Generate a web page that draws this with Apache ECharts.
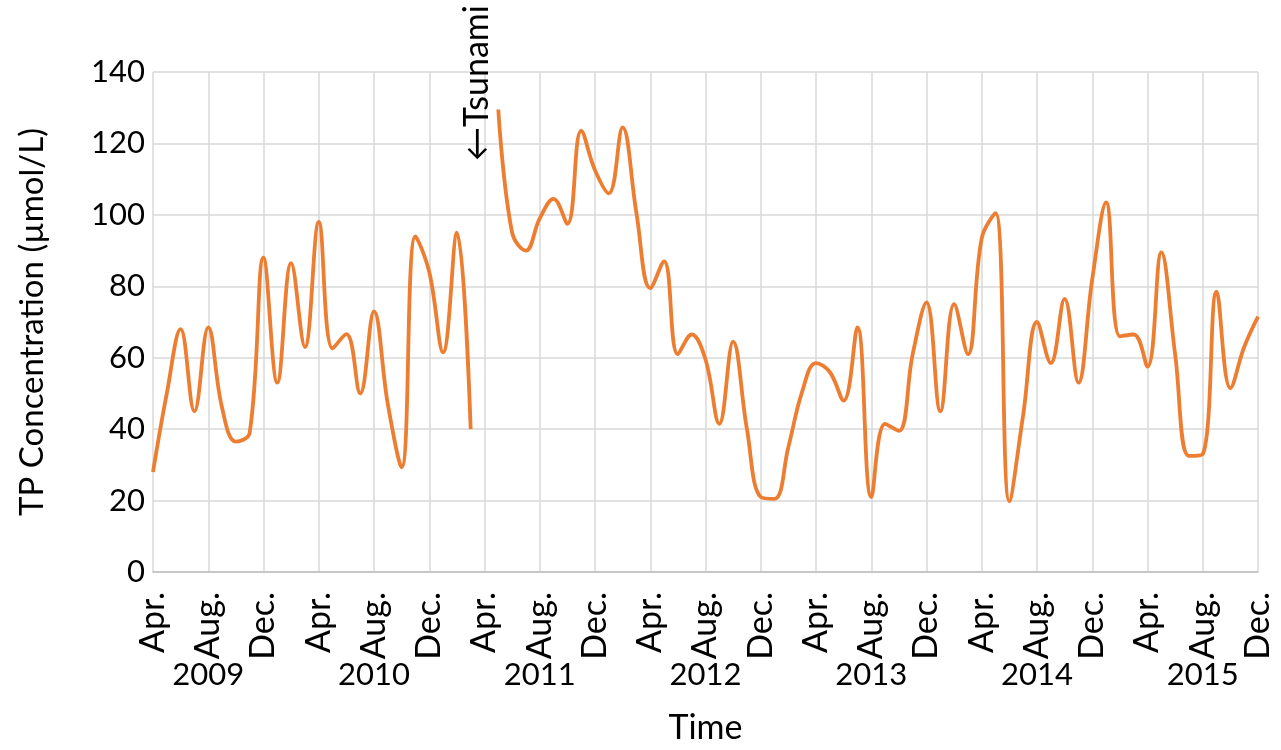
<!DOCTYPE html>
<html lang="en">
<head>
    <meta charset="UTF-8">
    <title>TP Concentration</title>
    <script type="text/javascript" src="https://cdn.jsdelivr.net/npm/echarts@6/dist/echarts.min.js"></script>
    <style>
        html, body {margin: 0; padding: 0; background: #fff;}
    </style>
</head>
<body>
    <div id="div_echarts" style="width: 1281px;height:750px;"></div>
    <script type="text/javascript">
        // 月份/年份（横轴）
        const years = [2009, 2010, 2011, 2012, 2013, 2014, 2015];
        const monthNames = ['Jan.', 'Feb.', 'Mar.', 'Apr.', 'May', 'Jun.', 'Jul.', 'Aug.', 'Sep.', 'Oct.', 'Nov.', 'Dec.'];
        const firstMonth = 4;   // Apr. 2009
        const lastMonth = 12;   // Dec. 2015
        const yearLabelMonth = 'Aug.';
        const tsunamiMonth = '2011-04';

        // 纵轴刻度
        const yTicks = [0, 20, 40, 60, 80, 100, 120, 140];

        // TP 浓度 (µmol/L)，每月一个值，Apr. 2011 缺测
        const tp = [
            28, 50, 68, 45, 68.5, 46, 36.5, 39, 88,                 // 2009 Apr-Dec
            53, 86.5, 63, 98, 62.6, 66.6, 50, 73, 47, 29.3, 94, 84, // 2010
            61.5, 95, 40, null, 129.5, 95, 90, 99, 104.5, 97.5, 123.5, 112.5, // 2011
            106, 124.5, 100.5, 79.5, 87, 61, 66.5, 59.5, 41.5, 64.5, 40, 21,   // 2012
            20.5, 35, 50.5, 58.5, 56, 48, 68.5, 21, 41.5, 39.5, 61, 75.5,     // 2013
            45, 75, 61, 93.5, 100.5, 19.8, 44, 70, 58.5, 76.5, 53, 82,        // 2014
            103.5, 66, 66.5, 57.5, 89.5, 61, 32.5, 33, 78.5, 51.5, 63, 71.5   // 2015
        ];

        // 生成类目: "2009-04" ... "2015-12"
        let months = [];
        for (let y of years) {
            for (let m = 1; m <= 12; m++) {
                if (y === years[0] && m < firstMonth) continue;
                if (y === years[years.length - 1] && m > lastMonth) continue;
                months.push(y + '-' + (m < 10 ? '0' + m : m));
            }
        }

        const font = 'Lato, Carlito, Calibri, sans-serif';
        var myChart = echarts.init(document.getElementById('div_echarts'));
        var option = {
            animation: false,
            color: ['#ED7D31'],
            grid: {left: 153, right: 23, top: 72, bottom: 177},
            xAxis: [
                {
                    type: 'category',
                    data: months,
                    boundaryGap: false,
                    name: 'Time',
                    nameLocation: 'middle',
                    nameGap: 139,
                    nameTextStyle: {fontFamily: font, fontSize: 34, color: '#000'},
                    axisLine: {lineStyle: {color: '#bfbfbf', width: 1.5}},
                    axisTick: {show: false},
                    axisLabel: {
                        interval: 3,
                        rotate: 90,
                        margin: 20,
                        fontFamily: font,
                        fontSize: 34,
                        color: '#000',
                        formatter: function (v) {
                            return monthNames[parseInt(v.slice(5), 10) - 1];
                        }
                    },
                    splitLine: {show: true, interval: 3, lineStyle: {color: '#d9d9d9', width: 1.5}}
                },
                {
                    // 年份标签
                    type: 'category',
                    data: months,
                    boundaryGap: false,
                    position: 'bottom',
                    axisLine: {show: false},
                    axisTick: {show: false},
                    splitLine: {show: false},
                    axisLabel: {
                        interval: 0,
                        margin: 87,
                        fontFamily: font,
                        fontSize: 31,
                        color: '#000',
                        formatter: function (v) {
                            let m = monthNames[parseInt(v.slice(5), 10) - 1];
                            return m === yearLabelMonth ? v.slice(0, 4) : '';
                        }
                    }
                }
            ],
            yAxis: {
                type: 'value',
                min: yTicks[0],
                max: yTicks[yTicks.length - 1],
                interval: yTicks[1] - yTicks[0],
                name: 'TP Concentration (µmol/L)',
                nameLocation: 'middle',
                nameGap: 104,
                nameTextStyle: {fontFamily: font, fontSize: 33, color: '#000'},
                axisLine: {show: false},
                axisTick: {show: false},
                axisLabel: {fontFamily: font, fontSize: 31, color: '#000', margin: 8},
                splitLine: {lineStyle: {color: '#d9d9d9', width: 1.5}}
            },
            series: [
                {
                    name: 'TP',
                    type: 'line',
                    data: tp,
                    smooth: 0.4,
                    showSymbol: false,
                    connectNulls: false,
                    lineStyle: {width: 3.8, color: '#ED7D31'}
                }
            ]
        };
        myChart.setOption(option);

        // 海啸标注
        let p = myChart.convertToPixel({xAxisIndex: 0, yAxisIndex: 0}, [tsunamiMonth, yTicks[yTicks.length - 1]]);
        myChart.setOption({
            graphic: [{
                type: 'text',
                x: p[0] - 7,
                y: p[1] + 11,
                rotation: Math.PI / 2,
                style: {
                    text: '\u2190Tsunami',
                    font: '34px ' + font,
                    fill: '#000',
                    align: 'center',
                    verticalAlign: 'middle'
                }
            }]
        });
    </script>
</body>
</html>
